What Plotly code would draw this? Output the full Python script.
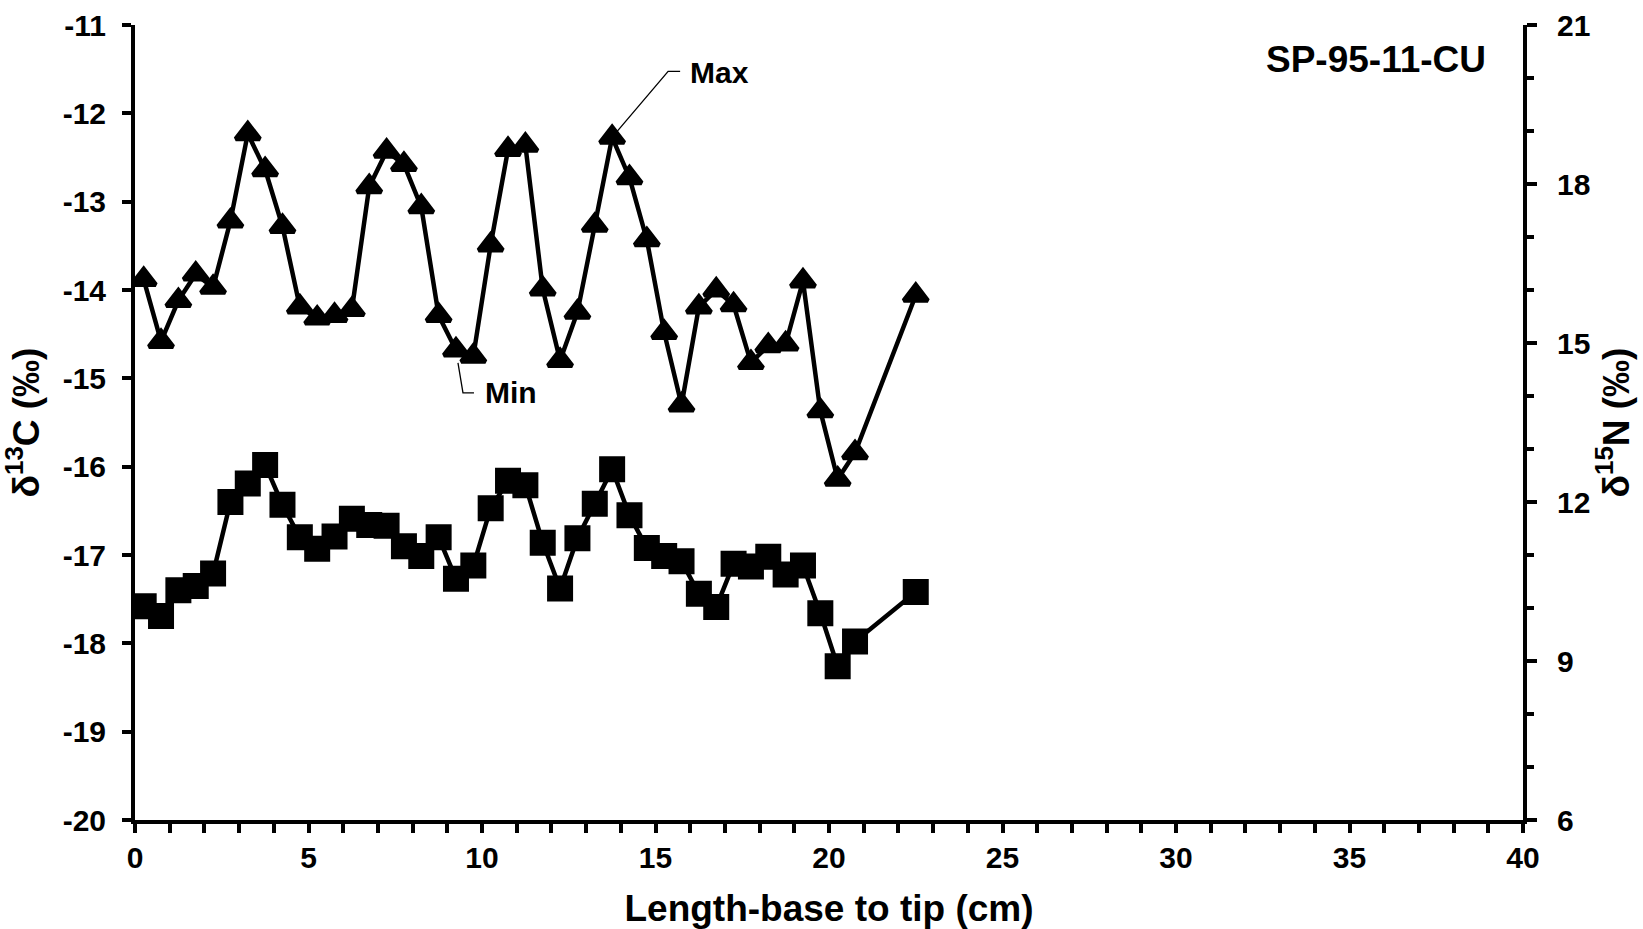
import plotly.graph_objects as go

# ---- data ----
length_cm = [0.25, 0.75, 1.25, 1.75, 2.25, 2.75, 3.25, 3.75, 4.25, 4.75,
             5.25, 5.75, 6.25, 6.75, 7.25, 7.75, 8.25, 8.75, 9.25, 9.75,
             10.25, 10.75, 11.25, 11.75, 12.25, 12.75, 13.25, 13.75, 14.25, 14.75,
             15.25, 15.75, 16.25, 16.75, 17.25, 17.75, 18.25, 18.75, 19.25, 19.75,
             20.25, 20.75, 22.5]

d13c = [-17.58, -17.69, -17.40, -17.35, -17.21, -16.40, -16.19, -15.98, -16.43, -16.80,
        -16.93, -16.79, -16.59, -16.66, -16.67, -16.90, -17.01, -16.80, -17.27, -17.12,
        -16.47, -16.16, -16.21, -16.86, -17.38, -16.81, -16.42, -16.03, -16.55, -16.92,
        -17.01, -17.07, -17.44, -17.59, -17.10, -17.13, -17.02, -17.22, -17.12, -17.66,
        -18.26, -17.98, -17.42]

d15n = [16.20, 15.03, 15.80, 16.30, 16.05, 17.30, 18.95, 18.27, 17.20, 15.68,
        15.47, 15.52, 15.63, 17.95, 18.62, 18.37, 17.57, 15.52, 14.87, 14.75,
        16.85, 18.65, 18.73, 16.02, 14.67, 15.58, 17.22, 18.88, 18.12, 16.95,
        15.20, 13.83, 15.68, 16.00, 15.72, 14.63, 14.95, 14.98, 16.17, 13.72,
        12.43, 12.93, 15.90]

x_ticks = [0, 5, 10, 15, 20, 25, 30, 35, 40]
left_ticks = [-20, -19, -18, -17, -16, -15, -14, -13, -12, -11]
left_tick_text = ["-20", "-19", "-18", "-17", "-16", "-15", "-14", "-13", "-12", "-11"]
right_ticks = [6, 9, 12, 15, 18, 21]

sample_id = "SP-95-11-CU"
max_idx = 27   # point labelled "Max"
min_idx = 18   # point labelled "Min"

FONT = "Liberation Sans, Arial, sans-serif"
tick_font = dict(family=FONT, size=30, color="black", weight="bold")
title_font = dict(family=FONT, size=37, color="black", weight="bold")

fig = go.Figure()

fig.add_trace(go.Scatter(
    x=length_cm, y=d13c, mode="lines+markers", name="δ13C",
    line=dict(color="black", width=4.5),
    marker=dict(symbol="square", size=23, color="black",
                line=dict(color="black", width=3)),
    yaxis="y", showlegend=False, hoverinfo="skip"))

fig.add_trace(go.Scatter(
    x=length_cm, y=d15n, mode="lines+markers", name="δ15N",
    line=dict(color="black", width=4.5),
    marker=dict(symbol="triangle-up", size=21, color="black",
                line=dict(color="black", width=4.5)),
    yaxis="y2", showlegend=False, hoverinfo="skip"))

axis_common = dict(
    showline=True, linecolor="black", linewidth=4,
    showgrid=False, zeroline=False, automargin=False,
    ticks="outside", tickcolor="black", tickwidth=4, ticklen=9,
    tickfont=tick_font,
)

fig.update_layout(
    template="none",
    width=1643, height=929,
    margin=dict(l=135, r=120, t=25, b=109, pad=0),
    paper_bgcolor="white", plot_bgcolor="white",
    title=dict(text=sample_id, font=title_font, x=1376 / 1643, xanchor="center",
               y=1 - 59 / 929, yanchor="middle"),
    xaxis=dict(
        **axis_common,
        range=[0, 40], tickmode="array", tickvals=x_ticks,
        minor=dict(dtick=1, ticks="outside", ticklen=9, tickwidth=4,
                   tickcolor="black", showgrid=False),
        ticklabelstandoff=-1,
        title=dict(text="Length-base to tip (cm)", font=title_font, standoff=30),
    ),
    yaxis=dict(
        **axis_common,
        range=[-20, -11], tickmode="array", tickvals=left_ticks,
        ticktext=left_tick_text,
        ticklabelstandoff=10,
        title=dict(text="δ<sup>13</sup>C (‰)", font=title_font, standoff=14),
    ),
    yaxis2=dict(
        **axis_common,
        overlaying="y", side="right", anchor="x",
        range=[6, 21], tickmode="array", tickvals=right_ticks,
        minor=dict(dtick=1, ticks="outside", ticklen=7, tickwidth=4,
                   tickcolor="black", showgrid=False),
        ticklabelstandoff=14,
        title=dict(text="δ<sup>15</sup>N (‰)", font=title_font, standoff=13),
    ),
)
fig.layout.yaxis2.ticklen = 10

# leader lines (pixel offsets relative to the labelled data points)
fig.add_shape(type="path", xref="x", yref="y2",
              xsizemode="pixel", ysizemode="pixel",
              xanchor=length_cm[max_idx], yanchor=d15n[max_idx],
              path="M5,6 L56,66 L68,66", line=dict(color="black", width=1.3))
fig.add_shape(type="path", xref="x", yref="y2",
              xsizemode="pixel", ysizemode="pixel",
              xanchor=length_cm[min_idx], yanchor=d15n[min_idx],
              path="M2,-13 L7,-43 L18,-43", line=dict(color="black", width=1.3))

fig.add_annotation(x=length_cm[max_idx], y=d15n[max_idx], xref="x", yref="y2",
                   text="Max", showarrow=False, xanchor="left", yanchor="middle",
                   xshift=76, yshift=65, font=tick_font)
fig.add_annotation(x=length_cm[min_idx], y=d15n[min_idx], xref="x", yref="y2",
                   text="Min", showarrow=False, xanchor="left", yanchor="middle",
                   xshift=27, yshift=-43, font=tick_font)

fig.write_html("out.html")
